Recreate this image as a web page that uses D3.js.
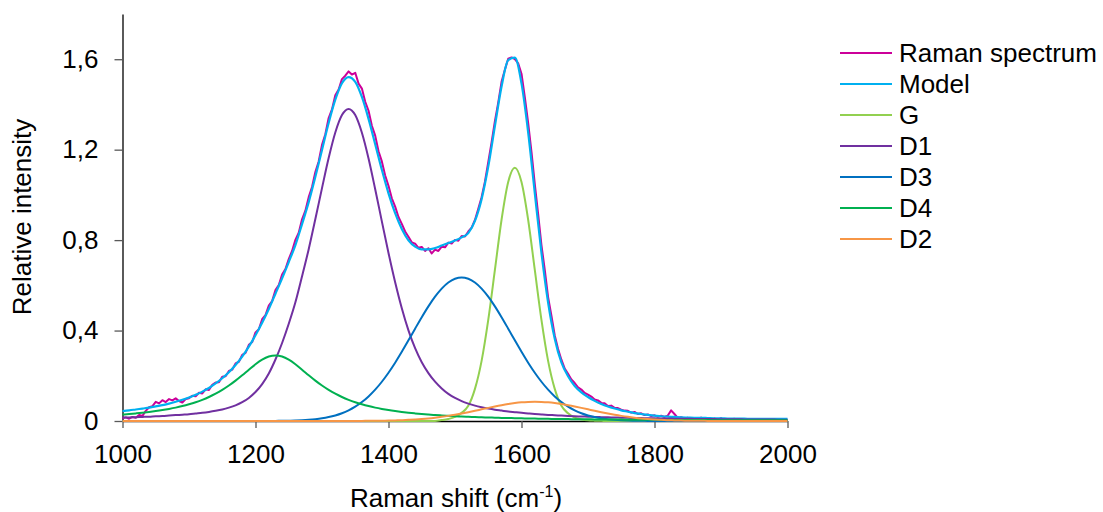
<!DOCTYPE html>
<html>
<head>
<meta charset="utf-8">
<script src="https://cdn.jsdelivr.net/npm/d3@7"></script>
<style>
  body { margin: 0; background: #fff; }
  svg text { font-family: "Liberation Sans", Arial, sans-serif; fill: #000; }
</style>
</head>
<body>
<script>
// sampling grids (cm-1)
const rawShift = d3.range(1000, 2001, 5);
const fitShift = d3.range(1000, 2001, 10);

// measured spectrum, every 5 cm-1 from 1000 to 2000
const ramanSpectrum = [
  0.012,0.016,0.010,0.018,0.014,0.027,0.022,0.045,0.061,0.066,
  0.085,0.078,0.092,0.084,0.097,0.091,0.100,0.088,0.082,0.097,
  0.101,0.112,0.109,0.125,0.122,0.140,0.137,0.160,0.170,0.171,
  0.196,0.198,0.221,0.227,0.255,0.262,0.292,0.301,0.337,0.349,
  0.392,0.406,0.450,0.468,0.510,0.530,0.579,0.601,0.648,0.672,
  0.716,0.752,0.801,0.833,0.892,0.930,0.990,1.035,1.101,1.148,
  1.221,1.268,1.340,1.378,1.441,1.466,1.512,1.527,1.546,1.532,
  1.540,1.492,1.470,1.412,1.372,1.306,1.262,1.193,1.148,1.086,
  1.040,0.985,0.948,0.902,0.872,0.838,0.815,0.790,0.784,0.766,
  0.770,0.752,0.764,0.741,0.758,0.752,0.771,0.768,0.789,0.785,
  0.801,0.797,0.818,0.816,0.838,0.855,0.889,0.938,0.990,1.058,
  1.145,1.232,1.326,1.408,1.500,1.553,1.602,1.608,1.600,1.582,
  1.536,1.432,1.318,1.190,1.048,0.916,0.778,0.668,0.548,0.466,
  0.378,0.318,0.271,0.232,0.209,0.184,0.168,0.149,0.139,0.124,
  0.117,0.108,0.095,0.091,0.080,0.078,0.066,0.068,0.058,0.057,
  0.050,0.046,0.045,0.037,0.040,0.031,0.034,0.026,0.029,0.022,
  0.025,0.019,0.023,0.018,0.024,0.047,0.031,0.014,0.017,0.010,
  0.014,0.004,0.012,0.006,0.015,0.005,0.010,0.003,0.011,0.004,
  0.013,0.002,0.008,0.003,0.010,0.001,0.007,0.004,0.009,0.002,
  0.006,0.001,0.008,0.003,0.006,0.002,0.007,0.001,0.005,0.003,
  0.006
];

// fit curves, every 10 cm-1 from 1000 to 2000
const model = [
  0.044,0.047,0.051,0.055,0.059,0.065,0.070,0.077,0.085,0.094,
  0.104,0.116,0.130,0.146,0.166,0.189,0.216,0.248,0.285,0.329,
  0.379,0.434,0.495,0.563,0.631,0.703,0.778,0.871,0.968,1.080,
  1.199,1.318,1.421,1.494,1.521,1.500,1.433,1.336,1.224,1.111,
  1.007,0.919,0.849,0.799,0.771,0.759,0.759,0.765,0.776,0.787,
  0.798,0.812,0.831,0.885,0.981,1.125,1.304,1.479,1.596,1.607,
  1.493,1.277,1.008,0.744,0.524,0.364,0.259,0.198,0.155,0.127,
  0.106,0.089,0.075,0.064,0.055,0.047,0.041,0.035,0.031,0.027,
  0.024,0.021,0.019,0.018,0.016,0.015,0.014,0.014,0.013,0.012,
  0.012,0.011,0.011,0.011,0.010,0.010,0.010,0.009,0.009,0.009,
  0.009
];
const bandG = [
  0,0,0,0,0,0,0,0,0,0,
  0,0,0,0,0,0,0,0,0,0,
  0,0,0,0,0,0,0,0,0,0,
  0,0,0,0,0,0,0,0,0,0,
  0,0,0,0,0,0,0,0.0003,0.004,0.009,
  0.018,0.036,0.067,0.142,0.266,0.447,0.668,0.890,1.057,1.120,
  1.057,0.890,0.668,0.447,0.266,0.142,0.067,0.034,0.015,0.007,
  0.003,0.0015,0.0008,0,0,0,0,0,0,0,
  0,0,0,0,0,0,0,0,0,0,
  0,0,0,0,0,0,0,0,0,0,
  0
];
const bandD1 = [
  0.015,0.016,0.017,0.018,0.019,0.021,0.022,0.024,0.026,0.028,
  0.030,0.033,0.036,0.040,0.045,0.051,0.059,0.069,0.083,0.102,
  0.128,0.163,0.210,0.272,0.345,0.430,0.525,0.640,0.760,0.893,
  1.030,1.163,1.276,1.353,1.380,1.353,1.275,1.161,1.025,0.883,
  0.743,0.614,0.499,0.401,0.322,0.260,0.212,0.174,0.144,0.120,
  0.102,0.088,0.077,0.068,0.061,0.055,0.050,0.046,0.042,0.039,
  0.036,0.0335,0.031,0.029,0.027,0.0255,0.024,0.0225,0.021,0.020,
  0.019,0.018,0.017,0.0163,0.0155,0.0148,0.0141,0.0135,0.0129,0.0123,
  0.0118,0.0113,0.0108,0.0104,0.0100,0.0096,0.0093,0.0089,0.0086,0.0083,
  0.0080,0.0077,0.0075,0.0072,0.0070,0.0068,0.0065,0.0063,0.0061,0.0060,
  0.0058
];
const bandD3 = [
  0,0,0,0,0,0,0,0,0,0,
  0,0,0,0,0,0,0,0,0,0,
  0,0,0.0003,0.0005,0.0009,0.0014,0.0023,0.0035,0.0054,0.0081,
  0.0119,0.0173,0.0246,0.0343,0.047,0.0633,0.0837,0.1087,0.1386,0.1736,
  0.2135,0.2579,0.3061,0.3567,0.4084,0.4591,0.507,0.5498,0.5855,0.6125,
  0.629,0.635,0.629,0.6125,0.5855,0.5498,0.507,0.4591,0.4084,0.3567,
  0.3061,0.2579,0.2135,0.1736,0.1386,0.1087,0.0837,0.0633,0.047,0.0343,
  0.0246,0.0173,0.0119,0.0081,0.0054,0.0035,0.0023,0.0014,0.0009,0.0005,
  0.0003,0,0,0,0,0,0,0,0,0,
  0,0,0,0,0,0,0,0,0,0,
  0
];
const bandD4 = [
  0.0285,0.0309,0.0336,0.0366,0.0400,0.0439,0.0483,0.0534,0.0592,0.0660,
  0.0739,0.0830,0.0937,0.1062,0.1207,0.1376,0.1569,0.1787,0.2024,0.2271,
  0.2509,0.2712,0.2851,0.2900,0.2851,0.2712,0.2509,0.2271,0.2024,0.1787,
  0.1569,0.1376,0.1207,0.1062,0.0937,0.0830,0.0739,0.0660,0.0592,0.0534,
  0.0483,0.0439,0.0400,0.0366,0.0336,0.0309,0.0285,0.0264,0.0245,0.0228,
  0.0213,0.0199,0.0186,0.0175,0.0164,0.0155,0.0146,0.0138,0.0131,0.0124,
  0.0117,0.0112,0.0106,0.0101,0.0096,0.0092,0.0088,0.0084,0.0080,0.0077,
  0.0074,0.0071,0.0068,0.0065,0.0063,0.0061,0.0058,0.0056,0.0054,0.0052,
  0.0051,0.0049,0.0047,0.0046,0.0044,0.0043,0.0042,0.0040,0.0039,0.0038,
  0.0037,0.0036,0.0035,0.0034,0.0033,0.0032,0.0031,0.0030,0.0029,0.0029,
  0.0028
];
const bandD2 = [
  0,0,0,0,0,0,0,0,0,0,
  0,0,0,0,0,0,0,0,0,0,
  0,0,0,0,0,0,0,0,0,0,
  0,0,0,0.0001,0.0002,0.0003,0.0005,0.0007,0.0009,0.0014,
  0.0019,0.0027,0.0037,0.0051,0.0068,0.0089,0.0115,0.0147,0.0184,0.0227,
  0.0276,0.0330,0.0389,0.0451,0.0516,0.0580,0.0642,0.0699,0.0750,0.0792,
  0.0824,0.0843,0.0850,0.0843,0.0824,0.0792,0.0750,0.0699,0.0642,0.0580,
  0.0516,0.0451,0.0389,0.0330,0.0276,0.0227,0.0184,0.0147,0.0115,0.0089,
  0.0068,0.0051,0.0037,0.0027,0.0019,0.0014,0.0009,0.0007,0.0005,0.0003,
  0.0002,0.0001,0,0,0,0,0,0,0,0,
  0
];

const seriesNames = ["Raman spectrum", "Model", "G", "D1", "D3", "D4", "D2"];
const seriesColors = ["#cc0099", "#00b0f0", "#92d050", "#7030a0", "#0070c0", "#00b050", "#f79646"];
const xTicks = [1000, 1200, 1400, 1600, 1800, 2000];
const yTicks = [0, 0.4, 0.8, 1.2, 1.6];
const yTickLabels = ["0", "0,4", "0,8", "1,2", "1,6"];

const width = 1103, height = 512;
const plot = { left: 122.5, right: 787.5, top: 14, bottom: 421 };

const svg = d3.select("body").append("svg")
  .attr("width", width)
  .attr("height", height);

const x = d3.scaleLinear().domain([1000, 2000]).range([plot.left, plot.right]);
const y = d3.scaleLinear().domain([0, 1.8]).range([plot.bottom, plot.top]);

// axes
const yAxis = d3.axisLeft(y)
  .tickValues(yTicks)
  .tickFormat((d, i) => yTickLabels[i])
  .tickSize(8)
  .tickPadding(16)
  .tickSizeOuter(0);
const gy = svg.append("g").attr("transform", `translate(${plot.left},0)`).call(yAxis);

const xAxis = d3.axisBottom(x)
  .tickValues(xTicks)
  .tickFormat(d3.format("d"))
  .tickSize(7)
  .tickPadding(17)
  .tickSizeOuter(0);
const gx = svg.append("g").attr("transform", `translate(0,${plot.bottom})`).call(xAxis);

[gx, gy].forEach(g => {
  g.select(".domain").attr("stroke", "#000").attr("stroke-width", 1.3);
  g.selectAll(".tick line").attr("stroke", "#595959").attr("stroke-width", 1.3);
  g.selectAll(".tick text").attr("font-size", 26).attr("font-family", null).attr("fill", "#000");
});

// lines
const series = [
  { shift: rawShift, values: ramanSpectrum, curve: d3.curveLinear, w: 2 },
  { shift: fitShift, values: model, curve: d3.curveMonotoneX, w: 2.2 },
  { shift: fitShift, values: bandG, curve: d3.curveMonotoneX, w: 2 },
  { shift: fitShift, values: bandD1, curve: d3.curveMonotoneX, w: 2 },
  { shift: fitShift, values: bandD3, curve: d3.curveMonotoneX, w: 2 },
  { shift: fitShift, values: bandD4, curve: d3.curveMonotoneX, w: 2 },
  { shift: fitShift, values: bandD2, curve: d3.curveMonotoneX, w: 2 }
];

series.forEach((s, i) => {
  const line = d3.line()
    .x((d, j) => x(s.shift[j]))
    .y(d => y(d))
    .curve(s.curve);
  svg.append("path")
    .datum(s.values)
    .attr("fill", "none")
    .attr("stroke", seriesColors[i])
    .attr("stroke-width", s.w)
    .attr("stroke-linejoin", "round")
    .attr("d", line);
});

// axis titles
svg.append("text")
  .attr("transform", "rotate(-90)")
  .attr("x", -217)
  .attr("y", 31)
  .attr("text-anchor", "middle")
  .attr("font-size", 26)
  .text("Relative intensity");

const xt = svg.append("text")
  .attr("x", 456)
  .attr("y", 507)
  .attr("text-anchor", "middle")
  .attr("font-size", 26);
xt.append("tspan").text("Raman shift (cm");
xt.append("tspan").attr("dy", -10).attr("font-size", 16).text("-1");
xt.append("tspan").attr("dy", 10).text(")");

// legend
const legend = svg.append("g").attr("transform", "translate(840,53)");
seriesNames.forEach((name, i) => {
  const row = legend.append("g").attr("transform", `translate(0,${i * 31})`);
  row.append("line")
    .attr("x1", 0).attr("x2", 52)
    .attr("y1", 0).attr("y2", 0)
    .attr("stroke", seriesColors[i])
    .attr("stroke-width", 2);
  row.append("text")
    .attr("x", 59)
    .attr("y", 0)
    .attr("dy", "0.35em")
    .attr("font-size", 26)
    .text(name);
});
</script>
</body>
</html>
